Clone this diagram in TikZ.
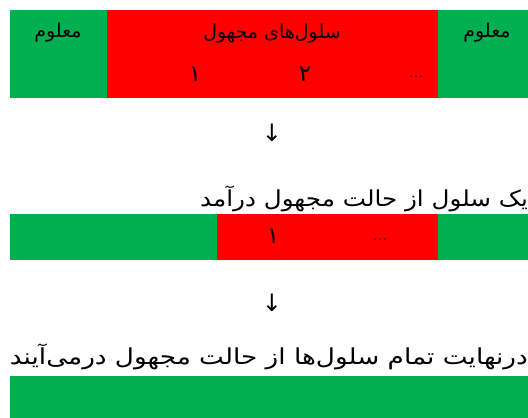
\documentclass[tikz,border=0pt]{standalone}
\usepackage{fontspec}
\newfontfamily\arabicfont[Script=Arabic]{DejaVu Sans}
\newfontfamily\symfont{DejaVu Sans}
\TeXXeTstate=1
\definecolor{okgreen}{HTML}{00B050}
\definecolor{badred}{HTML}{FF0000}
\tikzset{
  cellbox/.style={rectangle, inner sep=0pt, outer sep=0pt, anchor=north west},
  cellgreen/.style={cellbox, fill=okgreen},
  cellred/.style={cellbox, fill=badred},
  lbl/.style={inner sep=0pt, font=\arabicfont\fontsize{19}{21}\selectfont},
  digit/.style={inner sep=0pt, font=\arabicfont\fontsize{23}{26}\selectfont},
  captiontext/.style={inner sep=0pt, font=\arabicfont\fontsize{22}{26}\selectfont},
  dots/.style={inner sep=0pt, font=\fontsize{20}{22}\selectfont},
  downarrow/.style={inner sep=0pt, font=\symfont\fontsize{24}{26}\selectfont}
}
\begin{document}
\begin{tikzpicture}[x=1pt,y=-1pt]
\useasboundingbox (0,0) rectangle (528,418);
% bar 1
\node[cellgreen, minimum width=97pt, minimum height=88pt] (k1) at (10,10) {};
\node[cellred, minimum width=331pt, minimum height=88pt] (u1) at (107,10) {};
\node[cellgreen, minimum width=90pt, minimum height=88pt] (k2) at (438,10) {};
\node[lbl] (t1) at (58,33) {\beginR معلوم\endR};
\node[lbl] (t2) at (272,34) {\beginR سلول‌های مجهول\endR};
\node[lbl] (t3) at (487,33) {\beginR معلوم\endR};
\node[digit] (n1) at (195,74) {۱};
\node[digit] (n2) at (305,74) {۲};
\node[dots] (d1) at (416,77) {...};
% arrow 1
\node[downarrow] (a1) at (272,133) {↓};
% caption 2
\node[captiontext, anchor=east] (c2) at (528,199) {\scalebox{1.12}[1]{\beginR یک سلول از حالت مجهول درآمد\endR}};
% bar 2
\node[cellgreen, minimum width=207pt, minimum height=46pt] (k3) at (10,214) {};
\node[cellred, minimum width=221pt, minimum height=46pt] (u2) at (217,214) {};
\node[cellgreen, minimum width=90pt, minimum height=46pt] (k4) at (438,214) {};
\node[digit] (n3) at (273,236) {۱};
\node[dots] (d2) at (380,240) {...};
% arrow 2
\node[downarrow] (a2) at (272,303) {↓};
% caption 3
\node[captiontext, anchor=east] (c3) at (528,357) {\scalebox{1.195}[1]{\beginR درنهایت تمام سلول‌ها از حالت مجهول درمی‌آیند\endR}};
% bar 3
\node[cellgreen, minimum width=518pt, minimum height=42pt] (k5) at (10,376) {};
\end{tikzpicture}
\end{document}
